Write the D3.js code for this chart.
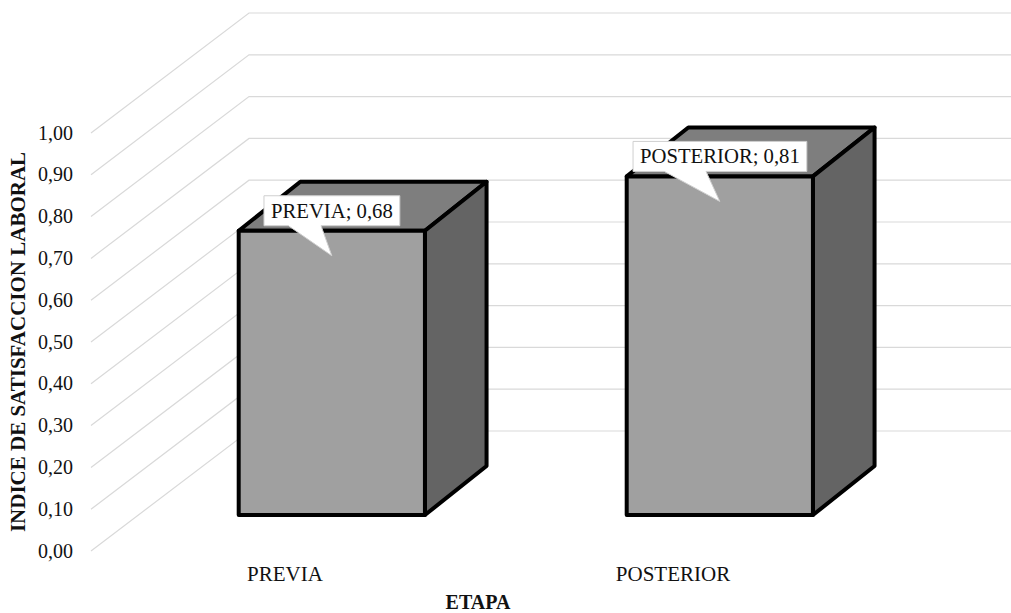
<!DOCTYPE html>
<html>
<head>
<meta charset="utf-8">
<script src="https://cdn.jsdelivr.net/npm/d3@7"></script>
<style>
  html, body { margin: 0; padding: 0; background: #fff; }
  svg { display: block; }
  text { font-family: "Liberation Serif", serif; fill: #111; }
</style>
</head>
<body>
<svg id="chart" width="1011" height="613"></svg>
<script>
// Chart data
const categories = ["PREVIA", "POSTERIOR"];
const values = [0.68, 0.81];
const yTicks = [0, 0.1, 0.2, 0.3, 0.4, 0.5, 0.6, 0.7, 0.8, 0.9, 1];
const xTitle = "ETAPA";
const yTitle = "INDICE DE SATISFACCION LABORAL";

const svg = d3.select("#chart");

// Front plane scales, plus a depth scale for the oblique 3D projection
const x = d3.scaleBand().domain(categories).range([92, 868]).paddingInner(0.52).paddingOuter(0.26);
const y = d3.scaleLinear().domain([0, 1]).range([551, 133]);
const depthX = d3.scaleLinear().domain([0, 1]).range([0, 158]);
const depthY = d3.scaleLinear().domain([0, 1]).range([0, -120]);
// Column extent along the depth axis, separately for the two page directions
const barDepthX = [0.29, 0.68];
const barDepthY = [0.3, 0.708];

// Project a point (front-plane x, value, depth) to the page
const project = (px, v, dx, dy = dx) => [px + depthX(dx), y(v) + depthY(dy)];
const poly = pts => pts.map(p => p.join(",")).join(" ");

// Side wall and back wall gridlines
const grid = svg.append("g").attr("fill", "none").attr("stroke", "#d9d9d9").attr("stroke-width", 1.2);
grid.selectAll("polyline").data(yTicks).join("polyline")
  .attr("points", t => poly([project(x.range()[0] - 1, t, 0), project(x.range()[0] - 1, t, 1), project(x.range()[1] + 10, t, 1)]));

// Value axis labels
const axis = d3.axisLeft(y).tickValues(yTicks).tickSize(0).tickPadding(0)
  .tickFormat(t => d3.format(".2f")(t).replace(".", ","));
const axisG = svg.append("g").attr("transform", "translate(73,0)").call(axis);
axisG.select(".domain").remove();
axisG.selectAll("text").attr("font-size", 20).attr("font-family", '"Liberation Serif", serif').attr("fill", "#111").attr("dy", "0.3em");

// Category labels
svg.append("g").selectAll("text").data(categories).join("text")
  .attr("x", c => x(c) + x.bandwidth() / 2 - 1)
  .attr("y", 581)
  .attr("text-anchor", "middle")
  .attr("font-size", 21)
  .text(c => c);

// Axis titles
svg.append("text").attr("x", 478).attr("y", 608.5).attr("text-anchor", "middle")
  .attr("font-size", 20).attr("font-weight", "bold").text(xTitle);
svg.append("text").attr("transform", "translate(25,342) rotate(-90)").attr("text-anchor", "middle")
  .attr("font-size", 21).attr("font-weight", "bold").text(yTitle);

// 3D columns: top, side and front faces
const bars = svg.append("g").selectAll("g").data(categories.map((c, i) => ({ c, v: values[i] }))).join("g")
  .attr("stroke", "#000").attr("stroke-width", 4).attr("stroke-linejoin", "round");
const [ax, bx] = barDepthX;
const [ay, by] = barDepthY;
const left = d => x(d.c);
const right = d => x(d.c) + x.bandwidth();
bars.append("polygon").attr("fill", "#7e7e7e").attr("points", d => poly([
  project(left(d), d.v, ax, ay), project(left(d), d.v, bx, by), project(right(d), d.v, bx, by), project(right(d), d.v, ax, ay)]));
bars.append("polygon").attr("fill", "#646464").attr("points", d => poly([
  project(right(d), 0, ax, ay), project(right(d), 0, bx, by), project(right(d), d.v, bx, by), project(right(d), d.v, ax, ay)]));
bars.append("polygon").attr("fill", "#a0a0a0").attr("points", d => poly([
  project(left(d), 0, ax, ay), project(right(d), 0, ax, ay), project(right(d), d.v, ax, ay), project(left(d), d.v, ax, ay)]));

// Data callouts: a white box with a pointer resting on the front face
const callouts = svg.append("g").selectAll("g").data(categories.map((c, i) => ({ c, v: values[i] }))).join("g");
callouts.each(function (d) {
  const g = d3.select(this);
  const [fx, fy] = project(x(d.c) + x.bandwidth() / 2, d.v, ax, ay);
  const tipX = fx, tipY = fy + 25;
  const label = g.append("text").attr("font-size", 20.7)
    .text(`${d.c}; ${d3.format(".2f")(d.v).replace(".", ",")}`);
  const w = label.node().getComputedTextLength();
  const boxR = tipX + (d.c === "PREVIA" ? 68 : 87);
  const boxW = w + 14;
  const boxL = boxR - boxW;
  const boxB = fy - 5;
  const boxT = boxB - 30;
  const baseA = boxL + boxW * 0.18, baseB = boxL + boxW * 0.42;
  g.insert("path", "text")
    .attr("d", `M${boxL},${boxT}H${boxR}V${boxB}H${baseB}L${tipX},${tipY}L${baseA},${boxB}H${boxL}Z`)
    .attr("fill", "#fff").attr("stroke", "#cfcfcf").attr("stroke-width", 1);
  label.attr("x", boxL + 7).attr("y", boxB - 8);
});
</script>
</body>
</html>
